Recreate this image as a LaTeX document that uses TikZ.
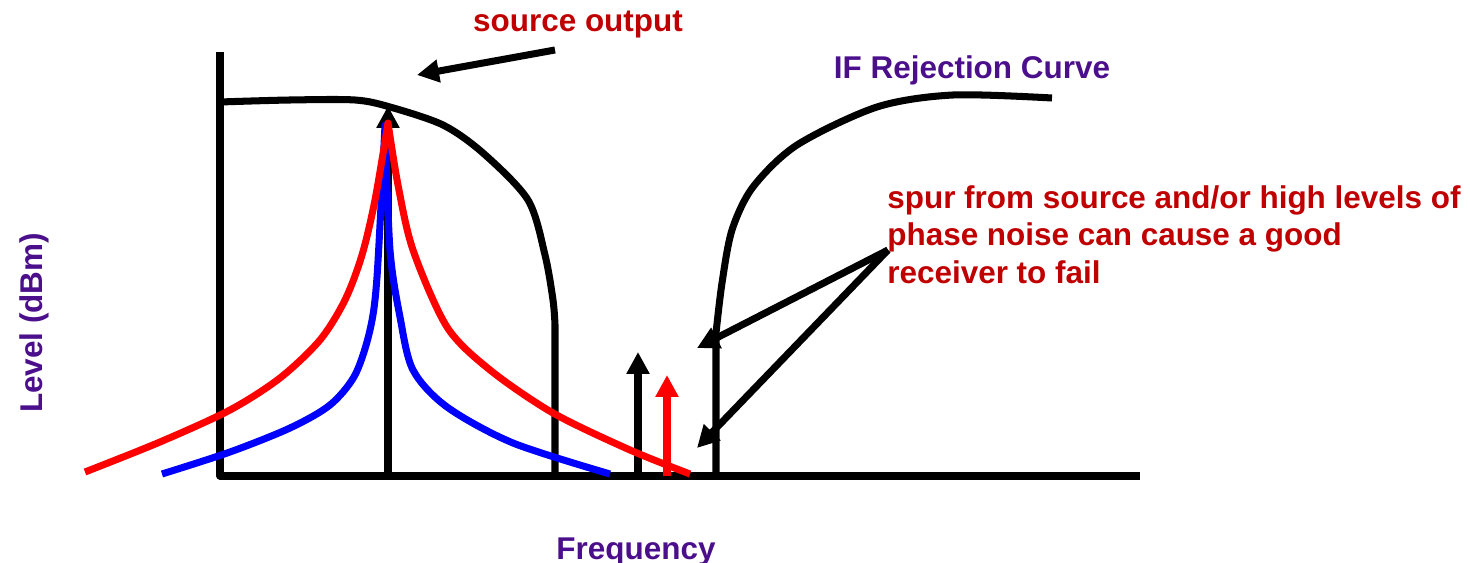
\documentclass[tikz,border=0pt]{standalone}
\usepackage{fontspec}
\setmainfont{Liberation Sans}
\usepackage{tikz}
\usepackage{xcolor}
\usetikzlibrary{arrows.meta}
\definecolor{labelred}{HTML}{C00000}
\definecolor{labelpurple}{HTML}{4B0F8C}
\definecolor{tracered}{HTML}{FF0000}
\definecolor{traceblue}{HTML}{0000FF}

\begin{document}
\begin{tikzpicture}[x=0.02cm, y=-0.02cm,
            curve/.style={line width=4pt, line join=round},
            pointer/.style={line width=4pt, -{Triangle[length=0.44cm, width=0.44cm]}},
            redlabel/.style={text=labelred, font=\fontsize{17.9}{21.5}\selectfont\bfseries, inner sep=0pt},
            purplelabel/.style={text=labelpurple, font=\fontsize{17.9}{21.5}\selectfont\bfseries, inner sep=0pt}]
            \useasboundingbox (0,0) rectangle (1470,563);
            % axes
            \coordinate (ytop) at (220,52);
            \coordinate (origin) at (220,476);
            \coordinate (xend) at (1140,476);
            \draw[curve] (ytop) -- (origin) -- (xend);
            % source output curve
            \draw[curve] plot[smooth] coordinates {(220,102) (290,100) (355,100) (390,107) (443,125) (483,153) (528,200) (545,255) (553,300) (555,325)} -- (555,476);
            % IF rejection curve
            \draw[curve] plot[smooth] coordinates {(1052,98) (953,95) (877,107) (797,145) (753,187) (732,230) (722,283) (716,333)} -- (716,476);
            % carrier and spurs
            \coordinate (peakbase) at (388,476);
            \coordinate (peaktop) at (388,106);
            \coordinate (spurbase) at (638,476);
            \coordinate (spurtop) at (638,352);
            \coordinate (noisebase) at (667,476);
            \coordinate (noisetop) at (667,375);
            \draw[pointer] (peakbase) -- (peaktop);
            \draw[pointer] (spurbase) -- (spurtop);
            % phase noise skirts
            \draw[curve, traceblue] plot[smooth] coordinates {(162,474) (230,452) (290,428) (330,405) (355,375) (370,330) (377,277) (385,125)}
                -- plot[smooth] coordinates {(385,125) (390,250) (400,317) (413,370) (447,407) (513,443) (610,474)};
            \draw[curve, tracered] plot[smooth] coordinates {(85,472) (160,442) (230,410) (280,378) (320,340) (345,300) (362,255) (375,200) (388,123)}
                -- plot[smooth] coordinates {(388,123) (398,185) (413,250) (447,327) (490,370) (553,413) (630,450) (690,474)};
            \draw[pointer, tracered] (noisebase) -- (noisetop);
            % labels
            \node[redlabel, anchor=base] (srclabel) at (578,32) {source output};
            \node[purplelabel, anchor=base] (iflabel) at (972,79) {IF Rejection Curve};
            \node[redlabel, anchor=north west, align=left] (spurlabel) at (887,185) {spur from source and/or high levels of\\phase noise can cause a good\\receiver to fail};
            \node[purplelabel, anchor=base] (freqlabel) at (636,559) {Frequency};
            \node[purplelabel, anchor=base, rotate=90] (levellabel) at (42,323) {Level (dBm)};
            % pointers
            \coordinate (srctail) at (555,50);
            \coordinate (srchead) at (417,75);
            \coordinate (spurtail) at (888,250);
            \coordinate (ifhead) at (697,348);
            \coordinate (noisehead) at (697,448);
            \draw[pointer] (srctail) -- (srchead);
            \draw[pointer] (spurtail) -- (ifhead);
            \draw[pointer] (spurtail) -- (noisehead);
        \end{tikzpicture}
\end{document}
